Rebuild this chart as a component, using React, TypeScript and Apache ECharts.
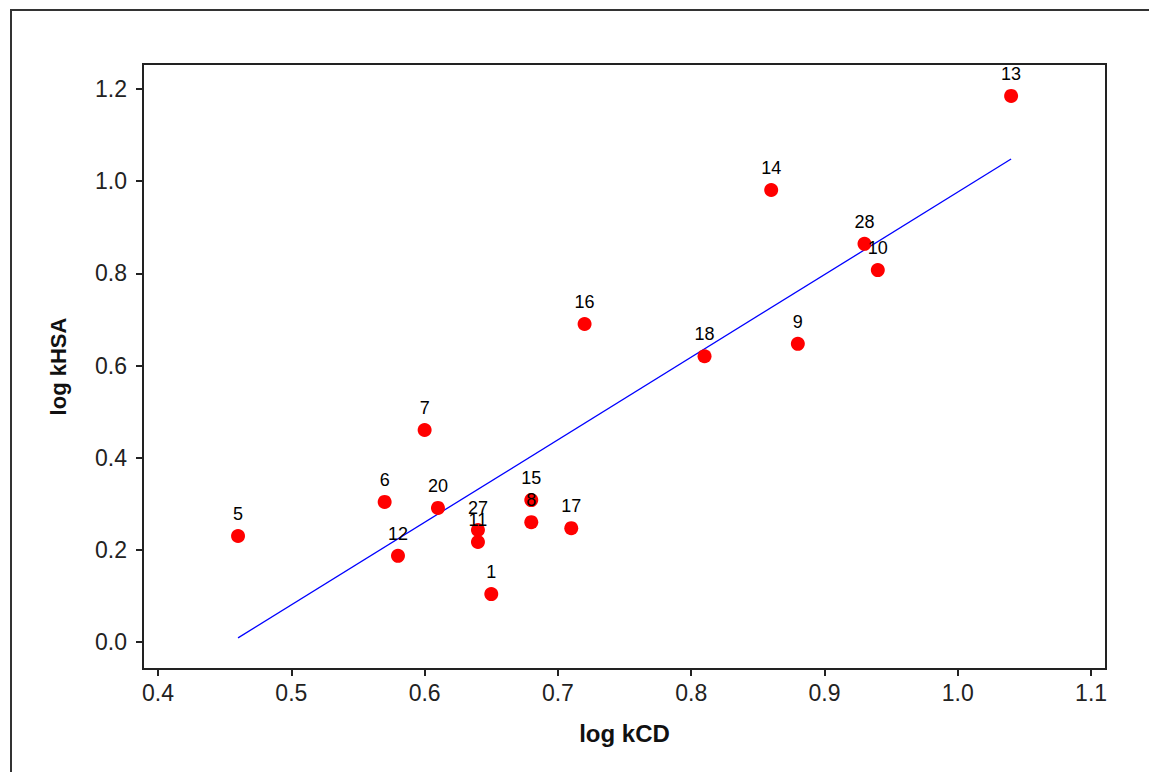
import React, { useEffect, useRef } from "react";
import * as echarts from "echarts";

const pointIds = ["5", "6", "12", "7", "20", "27", "11", "1", "15", "8", "17", "16", "18", "14", "9", "28", "10", "13"];
const logKCD = [0.46, 0.57, 0.58, 0.60, 0.61, 0.64, 0.64, 0.65, 0.68, 0.68, 0.71, 0.72, 0.81, 0.86, 0.88, 0.93, 0.94, 1.04];
const logKHSA = [0.230, 0.304, 0.187, 0.460, 0.291, 0.243, 0.217, 0.104, 0.308, 0.260, 0.247, 0.690, 0.620, 0.981, 0.647, 0.864, 0.807, 1.185];
const fitX = [0.46, 1.04];
const fitY = [0.009, 1.048];
const xTicks = [0.4, 0.5, 0.6, 0.7, 0.8, 0.9, 1.0, 1.1];
const yTicks = [0.0, 0.2, 0.4, 0.6, 0.8, 1.0, 1.2];

export default function App() {
  const ref = useRef<HTMLDivElement>(null);
  useEffect(() => {
    if (!ref.current) return;
    const chart = echarts.init(ref.current, undefined, { renderer: "svg" });
    const font = "'Liberation Sans', Arial, sans-serif";
    const scatterData = pointIds.map((id, i) => ({ name: id, value: [logKCD[i], logKHSA[i]] }));
    const lineData = fitX.map((x, i) => [x, fitY[i]]);
    chart.setOption({
      animation: false,
      backgroundColor: "#ffffff",
      grid: {
        left: 143,
        top: 64,
        width: 963,
        height: 605,
        show: true,
        borderColor: "#222",
        borderWidth: 2,
        backgroundColor: "transparent",
      },
      xAxis: {
        type: "value",
        min: 0.3887,
        max: 1.1112,
        name: "log kCD",
        nameLocation: "middle",
        nameGap: 52,
        nameTextStyle: { fontFamily: font, fontWeight: "bold", fontSize: 24, color: "#111" },
        axisLine: { show: true, onZero: false, lineStyle: { color: "#222", width: 2 } },
        axisTick: { show: true, length: 7, customValues: xTicks, lineStyle: { color: "#222", width: 2 } },
        axisLabel: {
          customValues: xTicks,
          formatter: (v: number) => v.toFixed(1),
          fontFamily: font,
          fontSize: 23,
          color: "#222",
          margin: 12,
        },
        splitLine: { show: false },
      },
      yAxis: {
        type: "value",
        min: -0.0586,
        max: 1.2543,
        name: "log kHSA",
        nameLocation: "middle",
        nameGap: 74,
        nameTextStyle: { fontFamily: font, fontWeight: "bold", fontSize: 22, color: "#111" },
        axisLine: { show: true, onZero: false, lineStyle: { color: "#222", width: 2 } },
        axisTick: { show: true, length: 7, customValues: yTicks, lineStyle: { color: "#222", width: 2 } },
        axisLabel: {
          customValues: yTicks,
          formatter: (v: number) => v.toFixed(1),
          fontFamily: font,
          fontSize: 23,
          color: "#222",
          margin: 16,
        },
        splitLine: { show: false },
      },
      graphic: [
        { type: "line", shape: { x1: 10, y1: 10, x2: 1149, y2: 10 }, style: { stroke: "#333", lineWidth: 2 } },
        { type: "line", shape: { x1: 11, y1: 10, x2: 11, y2: 772 }, style: { stroke: "#333", lineWidth: 2 } },
      ],
      series: [
        {
          type: "line",
          data: lineData,
          symbol: "none",
          lineStyle: { color: "#0000ff", width: 1.3 },
          z: 2,
        },
        {
          type: "scatter",
          data: scatterData,
          symbol: "circle",
          symbolSize: 14,
          itemStyle: { color: "#ff0000", opacity: 1 },
          label: {
            show: true,
            position: "top",
            distance: 6,
            formatter: (p: any) => p.name,
            fontFamily: font,
            fontSize: 18,
            color: "#000",
          },
          z: 3,
        },
      ],
    });
    return () => chart.dispose();
  }, []);
  return <div ref={ref} style={{ position: "absolute", left: 0, top: 0, width: 1149, height: 772 }} />;
}
